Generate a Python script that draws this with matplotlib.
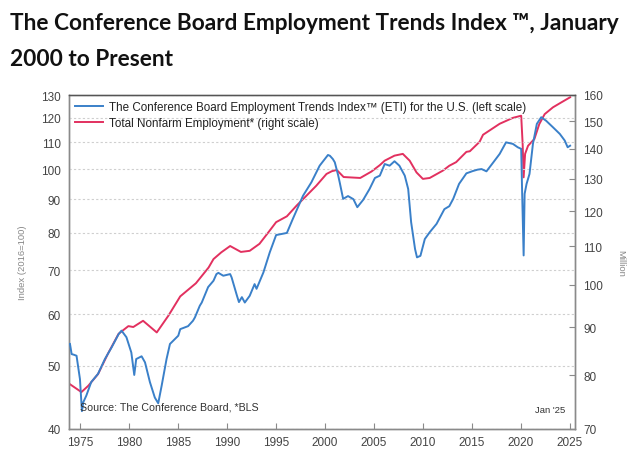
import matplotlib
matplotlib.use("Agg")
import matplotlib.pyplot as plt
from matplotlib.ticker import FixedLocator, FixedFormatter, NullLocator

# ---- data ----
eti_years = [1973.93, 1974.1, 1974.3, 1974.6, 1974.95, 1975.15, 1975.3, 1975.6, 1976.1, 1976.8,
             1977.5, 1978.2, 1978.9, 1979.2, 1979.7, 1980.2, 1980.5, 1980.7, 1981.25, 1981.6,
             1982.1, 1982.6, 1982.95, 1983.3, 1983.8, 1984.15, 1985.0, 1985.2, 1986.0, 1986.5,
             1986.7, 1987.2, 1987.4, 1988.05, 1988.6, 1988.9, 1989.1, 1989.6, 1990.3, 1990.45,
             1991.0, 1991.2, 1991.5, 1991.8, 1992.3, 1992.8, 1993.0, 1993.7, 1994.35, 1995.0,
             1996.1, 1996.7, 1997.75, 1998.6, 1999.45, 2000.3, 2000.5, 2000.8, 2001.0, 2001.35,
             2001.5, 2001.85, 2002.35, 2002.9, 2003.3, 2003.9, 2004.55, 2005.1, 2005.6, 2006.1,
             2006.6, 2007.1, 2007.6, 2008.15, 2008.5, 2008.8, 2009.2, 2009.4, 2009.75, 2010.2,
             2010.7, 2011.4, 2012.2, 2012.7, 2013.1, 2013.7, 2014.45, 2015.1, 2015.6, 2016.0,
             2016.5, 2017.2, 2017.85, 2018.5, 2019.2, 2019.7, 2020.05, 2020.15, 2020.3, 2020.4,
             2020.6, 2020.9, 2021.25, 2021.65, 2022.1, 2022.6, 2023.3, 2024.0, 2024.5, 2024.8,
             2025.05]
eti_values = [54.0, 52.1, 52.0, 51.8, 47.7, 42.6, 44.0, 45.0, 47.2, 48.6,
              51.2, 53.4, 55.9, 56.6, 55.3, 52.4, 48.4, 51.2, 51.7, 50.6,
              47.2, 44.7, 43.8, 46.6, 51.2, 54.0, 55.6, 56.9, 57.5, 58.6,
              59.3, 61.8, 62.5, 66.0, 67.5, 69.1, 69.4, 68.7, 69.1, 68.3,
              64.0, 62.6, 63.7, 62.5, 64.0, 66.7, 65.6, 69.5, 74.6, 79.3,
              79.9, 83.9, 91.1, 95.5, 101.3, 105.2, 104.9, 103.7, 102.5, 97.8,
              95.5, 90.1, 91.0, 90.0, 87.5, 89.8, 93.3, 97.0, 97.8, 101.9,
              101.3, 102.9, 101.3, 97.8, 93.3, 83.0, 75.5, 73.3, 73.7, 78.2,
              80.1, 82.5, 86.9, 87.8, 90.1, 95.0, 98.6, 99.4, 99.9, 100.1,
              99.3, 102.5, 105.6, 110.0, 109.4, 108.1, 107.5, 91.7, 73.8, 91.7,
              95.0, 98.4, 109.4, 117.4, 120.2, 118.7, 116.0, 113.3, 110.7, 108.1,
              108.7]

nfp_years = [1973.93, 1975.1, 1975.8, 1976.8, 1977.8, 1978.9, 1979.9, 1980.4, 1981.4, 1982.8,
             1984.0, 1985.2, 1986.8, 1988.1, 1988.6, 1989.4, 1990.3, 1991.4, 1992.3, 1993.3,
             1994.35, 1995.0, 1996.1, 1997.1, 1998.1, 1999.1, 2000.15, 2000.7, 2001.2, 2001.9,
             2003.6, 2004.75, 2005.6, 2006.1, 2007.1, 2007.95, 2008.65, 2009.35, 2010.0, 2010.7,
             2012.05, 2012.7, 2013.4, 2014.45, 2014.8, 2015.8, 2016.15, 2017.85, 2019.2, 2020.05,
             2020.2, 2020.3, 2020.45, 2020.75, 2021.4, 2021.9, 2022.45, 2023.3, 2024.15, 2025.05]
nfp_values = [78.2, 76.7, 77.9, 80.2, 84.3, 88.6, 90.3, 90.1, 91.5, 88.9,
              92.7, 97.2, 100.4, 104.4, 106.6, 108.4, 110.1, 108.5, 108.8, 110.7,
              114.4, 116.8, 118.5, 121.7, 124.7, 127.8, 131.6, 132.5, 132.9, 130.6,
              130.3, 132.4, 134.5, 136.0, 137.7, 138.3, 136.0, 132.1, 130.0, 130.3,
              132.7, 134.3, 135.5, 139.0, 139.2, 142.5, 145.0, 149.0, 151.2, 152.0,
              141.7, 130.5, 138.3, 141.1, 143.5, 148.9, 152.6, 155.2, 157.1, 159.1]

left_ticks = [40, 50, 60, 70, 80, 90, 100, 110, 120, 130]
right_ticks = [70, 80, 90, 100, 110, 120, 130, 140, 150, 160]
x_ticks = [1975, 1980, 1985, 1990, 1995, 2000, 2005, 2010, 2015, 2020, 2025]

BLUE = "#3a80c9"
RED = "#e2305f"
TXT = "#444444"
SPINE = "#8a8a8a"

plt.rcParams["font.family"] = ["Liberation Sans", "DejaVu Sans"]

fig = plt.figure(figsize=(6.42, 4.56), dpi=100)
fig.patch.set_facecolor("white")

fig.text(10 / 642, 1 - 23 / 456, "The Conference Board Employment Trends Index \u2122, January",
         fontsize=16.3, fontweight="bold", family=["Lato", "DejaVu Sans"], color="#111111",
         va="center", ha="left")
fig.text(10 / 642, 1 - 59 / 456, "2000 to Present",
         fontsize=16.3, fontweight="bold", family=["Lato", "DejaVu Sans"], color="#111111",
         va="center", ha="left")

ax = fig.add_axes([69 / 642, 26 / 456, (575 - 69) / 642, (430 - 96) / 456])
ax2 = ax.twinx()

ax.set_yscale("log")
ax.set_ylim(40, 130)
ax2.set_yscale("log")
ax2.set_ylim(70, 160)
ax.set_xlim(1973.83, 2025.55)

l1, = ax.plot(eti_years, eti_values, color=BLUE, lw=1.4, zorder=3,
              label="The Conference Board Employment Trends Index\u2122 (ETI) for the U.S. (left scale)")
l2, = ax2.plot(nfp_years, nfp_values, color=RED, lw=1.4, zorder=2,
               label="Total Nonfarm Employment* (right scale)")

ax.yaxis.set_major_locator(FixedLocator(left_ticks))
ax.yaxis.set_major_formatter(FixedFormatter([str(v) for v in left_ticks]))
ax.yaxis.set_minor_locator(NullLocator())
ax2.yaxis.set_major_locator(FixedLocator(right_ticks))
ax2.yaxis.set_major_formatter(FixedFormatter([str(v) for v in right_ticks]))
ax2.yaxis.set_minor_locator(NullLocator())
ax.set_xticks(x_ticks)
ax.set_xticklabels([str(v) for v in x_ticks])

ax.tick_params(axis="y", length=0, pad=6, labelsize=8.5, labelcolor=TXT)
ax2.tick_params(axis="y", direction="in", length=4, width=0.8, color=SPINE, pad=6,
                labelsize=8.5, labelcolor=TXT)
ax.tick_params(axis="x", direction="in", length=4, width=0.8, color=SPINE, pad=5,
               labelsize=8.5, labelcolor=TXT)

ax.grid(axis="y", which="major", color="#cfcfcf", linestyle=(0, (2, 2)), lw=0.8)
ax.set_axisbelow(True)

for a in (ax, ax2):
    for s in a.spines.values():
        s.set_color(SPINE)
        s.set_linewidth(1.0)
ax.spines["top"].set_color("#555555")

ax.set_ylabel("Index (2016=100)", fontsize=6.8, color="#888888", labelpad=10)
ax2.set_ylabel("Million", fontsize=6.8, color="#888888", rotation=-90, labelpad=16)

ax.set_zorder(ax2.get_zorder() + 1)
ax.patch.set_visible(False)

leg = ax.legend(handles=[l1, l2], loc="upper left", frameon=False, fontsize=8.4,
                handlelength=2.4, handletextpad=0.45, borderaxespad=0.15,
                labelspacing=0.3, bbox_to_anchor=(0.0, 1.0))
for t in leg.get_texts():
    t.set_color("#222222")

fig.text(80 / 642, 1 - 408 / 456, "Source: The Conference Board, *BLS", fontsize=7.7,
         color="#333333", va="center", ha="left")
fig.text(565 / 642, 1 - 411 / 456, "Jan '25", fontsize=6.8, color="#333333",
         va="center", ha="right")

fig.savefig("out.png", dpi=100, facecolor="white")
